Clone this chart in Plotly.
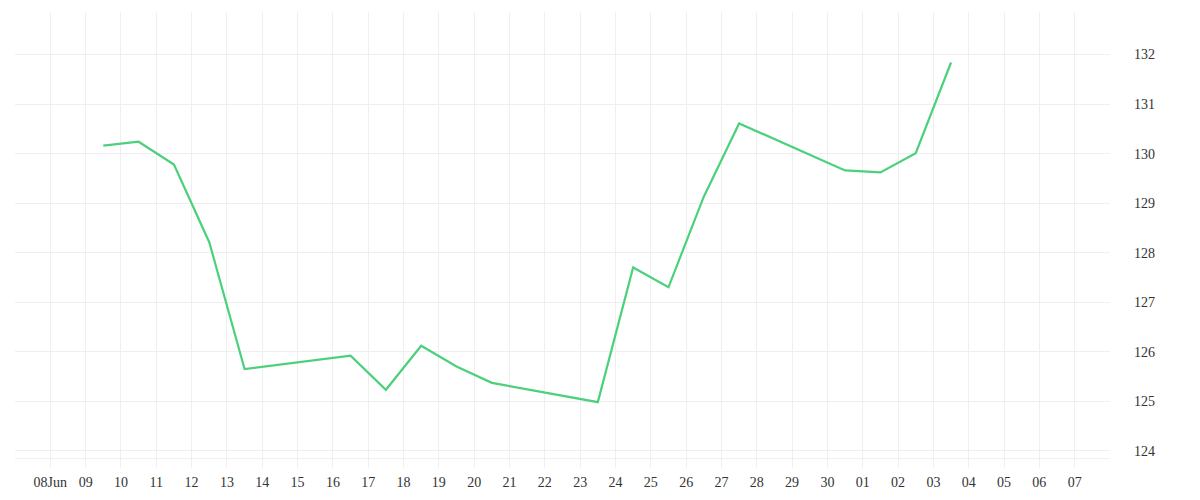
import plotly.graph_objects as go
import pandas as pd

dates = ["2014-06-09", "2014-06-10", "2014-06-11", "2014-06-12", "2014-06-13",
         "2014-06-16", "2014-06-17", "2014-06-18", "2014-06-19", "2014-06-20",
         "2014-06-23", "2014-06-24", "2014-06-25", "2014-06-26", "2014-06-27",
         "2014-06-30", "2014-07-01", "2014-07-02", "2014-07-03"]
values = [130.16, 130.24, 129.78, 128.21, 125.65,
          125.92, 125.23, 126.12, 125.70, 125.37,
          124.98, 127.70, 127.30, 129.13, 130.61,
          129.66, 129.62, 130.01, 131.84]

tick_dates = pd.date_range("2014-06-07", "2014-07-08", freq="D")
tick_labels = [""] + ["08Jun"] + [d.strftime("%d") for d in tick_dates[2:-1]] + [""]
y_ticks = [124, 125, 126, 127, 128, 129, 130, 131, 132]

x_vals = [pd.Timestamp(d) + pd.Timedelta(hours=12) for d in dates]

GRID = "#efefef"
FONT = "'Liberation Serif', 'DejaVu Serif', serif"

fig = go.Figure()
fig.add_trace(go.Scatter(x=x_vals, y=values, mode="lines",
                         line=dict(color="#4bd07b", width=2.2),
                         hoverinfo="x+y", showlegend=False))

fig.add_shape(type="line", xref="paper", x0=0, x1=1, yref="y", y0=123.84, y1=123.84,
              line=dict(color=GRID, width=1), layer="below")

fig.update_layout(
    width=1200, height=500,
    margin=dict(l=7, r=98, t=4, b=40),
    paper_bgcolor="white", plot_bgcolor="white",
    font=dict(family=FONT, size=14, color="#333333"),
    xaxis=dict(
        type="date",
        range=[tick_dates[0], tick_dates[-1]],
        tickmode="array", tickvals=list(tick_dates), ticktext=tick_labels,
        showgrid=True, gridcolor=GRID, gridwidth=1,
        zeroline=False, showline=False, ticks="",
        ticklabelstandoff=4,
    ),
    yaxis=dict(
        side="right",
        range=[123.65, 132.86],
        tickmode="array", tickvals=y_ticks,
        showgrid=True, gridcolor=GRID, gridwidth=1,
        zeroline=False, showline=False, ticks="",
        ticklabelstandoff=23,
    ),
)

fig.write_html("out.html")
